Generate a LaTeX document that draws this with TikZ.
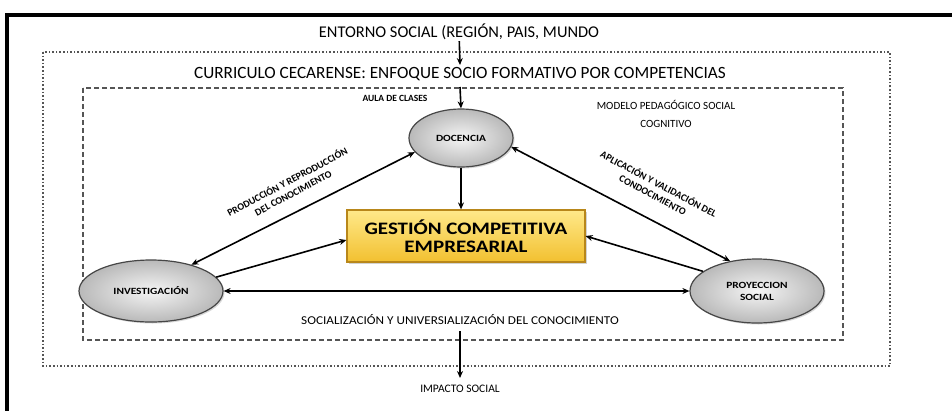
\documentclass[tikz,border=0pt]{standalone}
\usepackage{fontspec}
\setmainfont{Carlito}
\newfontfamily\widefont[FakeStretch=1.2]{Carlito}
\newfontfamily\semiwide[FakeStretch=1.1]{Carlito}
\usetikzlibrary{arrows.meta,shapes.geometric,shadows}
\definecolor{goldT}{HTML}{FFE98A}
\definecolor{goldB}{HTML}{F2C030}
\definecolor{goldD}{HTML}{B8871A}
\definecolor{lineG}{HTML}{555555}
\tikzset{
  arr/.style={line width=1.6pt,-{Stealth[length=7pt,width=6pt]}},
  darr/.style={line width=1.6pt,{Stealth[length=7pt,width=6pt]}-{Stealth[length=7pt,width=6pt]}},
  ellip/.style={ellipse,draw=gray!55!black,line width=1.2pt,inner color=gray!8,outer color=gray!55,
    drop shadow={opacity=0.3,shadow xshift=1.5pt,shadow yshift=-1.5pt},
    font=\widefont\bfseries\fontsize{9.5}{12}\selectfont,align=center,inner sep=0pt},
  gbox/.style={rectangle,draw=goldD,line width=1.2pt,top color=goldT,bottom color=goldB,
    drop shadow={opacity=0.35,shadow xshift=2pt,shadow yshift=-2pt},
    font=\widefont\bfseries\fontsize{17.5}{18}\selectfont,align=center,
    minimum width=238pt,minimum height=52pt},
  small/.style={inner sep=1pt,align=center},
  rot/.style={font=\bfseries\fontsize{10}{12.5}\selectfont,align=center,inner sep=1pt}
}
\begin{document}
\begin{tikzpicture}[x=1pt,y=-1pt]
\useasboundingbox (0,0) rectangle (952,410);
\fill[white] (0,0) rectangle (952,410);
% outer black frame
\draw[line width=3.5pt] (7,412) -- (7,15) -- (954,15);
% dotted and dashed frames
\draw[lineG,line width=1.6pt,dotted] (43,52) rectangle (890,366);
\draw[lineG,line width=1.2pt,dash pattern=on 5pt off 3pt] (83,88) rectangle (843,340);

% texts
\node[small,font=\fontsize{16.4}{18}\selectfont] (ent) at (459,32) {ENTORNO SOCIAL (REGIÓN, PAIS, MUNDO};
\node[small,font=\fontsize{17.2}{19}\selectfont] (cur) at (460,74) {CURRICULO CECARENSE: ENFOQUE SOCIO FORMATIVO POR COMPETENCIAS};
\node[small,font=\bfseries\fontsize{9.5}{10}\selectfont] (aula) at (395,98) {AULA DE CLASES};
\node[small,font=\fontsize{11}{18}\selectfont] (modelo) at (666,114) {MODELO PEDAGÓGICO SOCIAL\\COGNITIVO};

% main nodes
\node[ellip,minimum width=104pt,minimum height=58pt] (doc) at (461,138) {DOCENCIA};
\node[gbox] (gest) at (466,236) {GESTIÓN COMPETITIVA\\EMPRESARIAL};
\node[ellip,minimum width=144pt,minimum height=62pt] (inv) at (151,291) {INVESTIGACIÓN};
\node[ellip,minimum width=134pt,minimum height=64pt] (pro) at (757,291) {PROYECCION\\SOCIAL};

\node[small,font=\semiwide\fontsize{12}{13}\selectfont] (soc) at (460,320) {SOCIALIZACIÓN Y UNIVERSIALIZACIÓN DEL CONOCIMIENTO};
\node[small,font=\fontsize{11.5}{13}\selectfont] (imp) at (460,389) {IMPACTO SOCIAL};

\node[rot,rotate=28] (prod) at (290,187) {PRODUCCIÓN Y REPRODUCCIÓN\\DEL CONOCIMIENTO};
\node[rot,rotate=-28] (apl) at (656,189) {APLICACIÓN Y VALIDACIÓN DEL\\CONDOCIMIENTO};

% coordinates for free arrow ends
\coordinate (a1) at (460,65);
\coordinate (a2) at (460,87);
\coordinate (a3s) at (460,331);
\coordinate (a3) at (460,378);

% connectors
\draw[arr] (ent) -- (a1);
\draw[arr] (a2) -- (doc.north);
\draw[arr] (doc.south) -- (doc.south |- gest.north);
\draw[darr] (doc.197) -- (inv.33);
\draw[darr] (doc.350) -- (pro.132);
\draw[arr] (inv.12) -- ([yshift=-4pt]gest.west);
\draw[arr] (pro.160) -- (gest.east);
\draw[darr] (inv.east) -- (pro.west);
\draw[arr] (a3s) -- (a3);
\end{tikzpicture}
\end{document}
